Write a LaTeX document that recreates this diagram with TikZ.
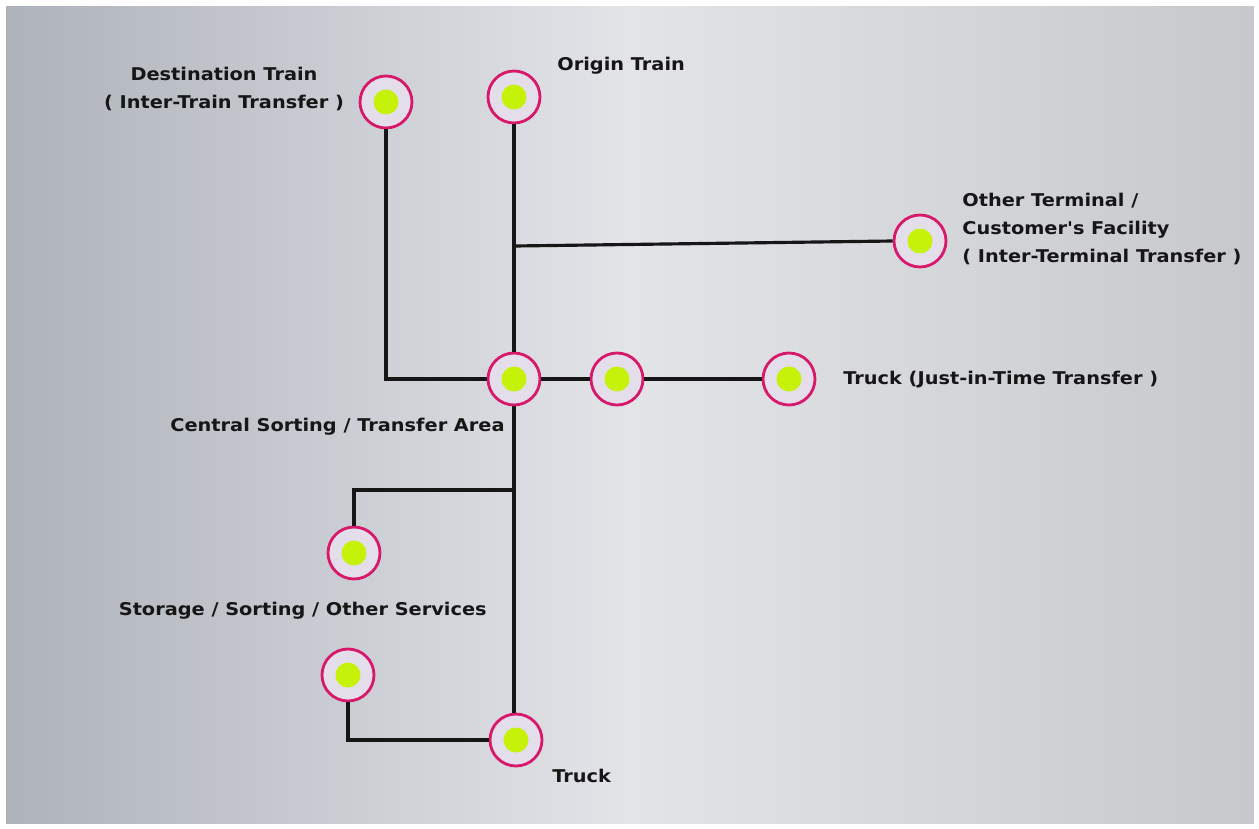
\documentclass[tikz,border=0pt]{standalone}
\usepackage{fontspec}
\setsansfont{DejaVu Sans}
\newfontfamily\tagfont{DejaVu Sans}[FakeStretch=1.1]
\definecolor{RingPink}{HTML}{D8186A}
\definecolor{RingInner}{HTML}{E4DDEA}
\definecolor{LimeDot}{HTML}{C6F20A}
\definecolor{WireInk}{HTML}{161616}
\definecolor{PaperDark}{HTML}{AEB2BA}
\definecolor{PaperLight}{HTML}{E2E4E8}
\definecolor{PaperRight}{HTML}{C6C8CC}
\usetikzlibrary{calc}

\tikzset{
  stop/.style={circle, draw=RingPink, line width=1.6pt, fill=RingInner,
    minimum size=1.04cm, inner sep=0pt,
    path picture={\fill[LimeDot] (path picture bounding box.center) circle (0.25cm);}},
  wire/.style={WireInk, line width=1.8pt},
  tag/.style={font=\tagfont\bfseries\fontsize{10}{16}\selectfont, text=WireInk, inner sep=0pt}
}

\begin{document}
\begin{tikzpicture}[x=0.02cm, y=-0.02cm]
  \useasboundingbox (0,0) rectangle (1259,829);
  \fill[white] (0,0) rectangle (1259,829);
  %% paper background
  \shade[left color=PaperDark, right color=PaperRight, middle color=PaperLight]
    (6,6) rectangle (1254,823);

  %% stops
  \node[stop] (desttrain) at (386,102) {};
  \node[stop] (origtrain) at (514,97) {};
  \node[stop] (otherterm) at (920,241) {};
  \node[stop] (central) at (514,379) {};
  \node[stop] (midstop) at (617,379) {};
  \node[stop] (jittruck) at (789,379) {};
  \node[stop] (storeA) at (354,553) {};
  \node[stop] (storeB) at (348,675) {};
  \node[stop] (truck) at (516,740) {};

  %% branch points
  \coordinate (termfork) at (514,246);
  \coordinate (storefork) at (514,490);

  %% connectors
  \draw[wire] (desttrain.south) |- (central.west);
  \draw[wire] (origtrain.south) -- (central.north);
  \draw[wire] (termfork) -- (otherterm.west);
  \draw[wire] (central.east) -- (midstop.west);
  \draw[wire] (midstop.east) -- (jittruck.west);
  \draw[wire] (central.south) -- (central.south |- truck.north);
  \draw[wire] (storefork) -| (storeA.north);
  \draw[wire] (storeB.south) |- (truck.west);

  %% labels
  \node[tag, align=center] (desttag) at (224,89)
    {Destination Train\\( Inter-Train Transfer )};
  \node[tag, anchor=west] (origtag) at (557,66) {Origin Train};
  \node[tag, anchor=west, align=left] (termtag) at (962,229)
    {Other Terminal /\\Customer's Facility\\( Inter-Terminal Transfer )};
  \node[tag, anchor=west] (jittag) at (843,380) {Truck (Just-in-Time Transfer )};
  \node[tag, anchor=east] (centtag) at (505,427) {Central Sorting / Transfer Area};
  \node[tag, anchor=east] (storetag) at (487,611) {Storage / Sorting / Other Services};
  \node[tag, anchor=west] (trucktag) at (552,776) {Truck};
\end{tikzpicture}
\end{document}
